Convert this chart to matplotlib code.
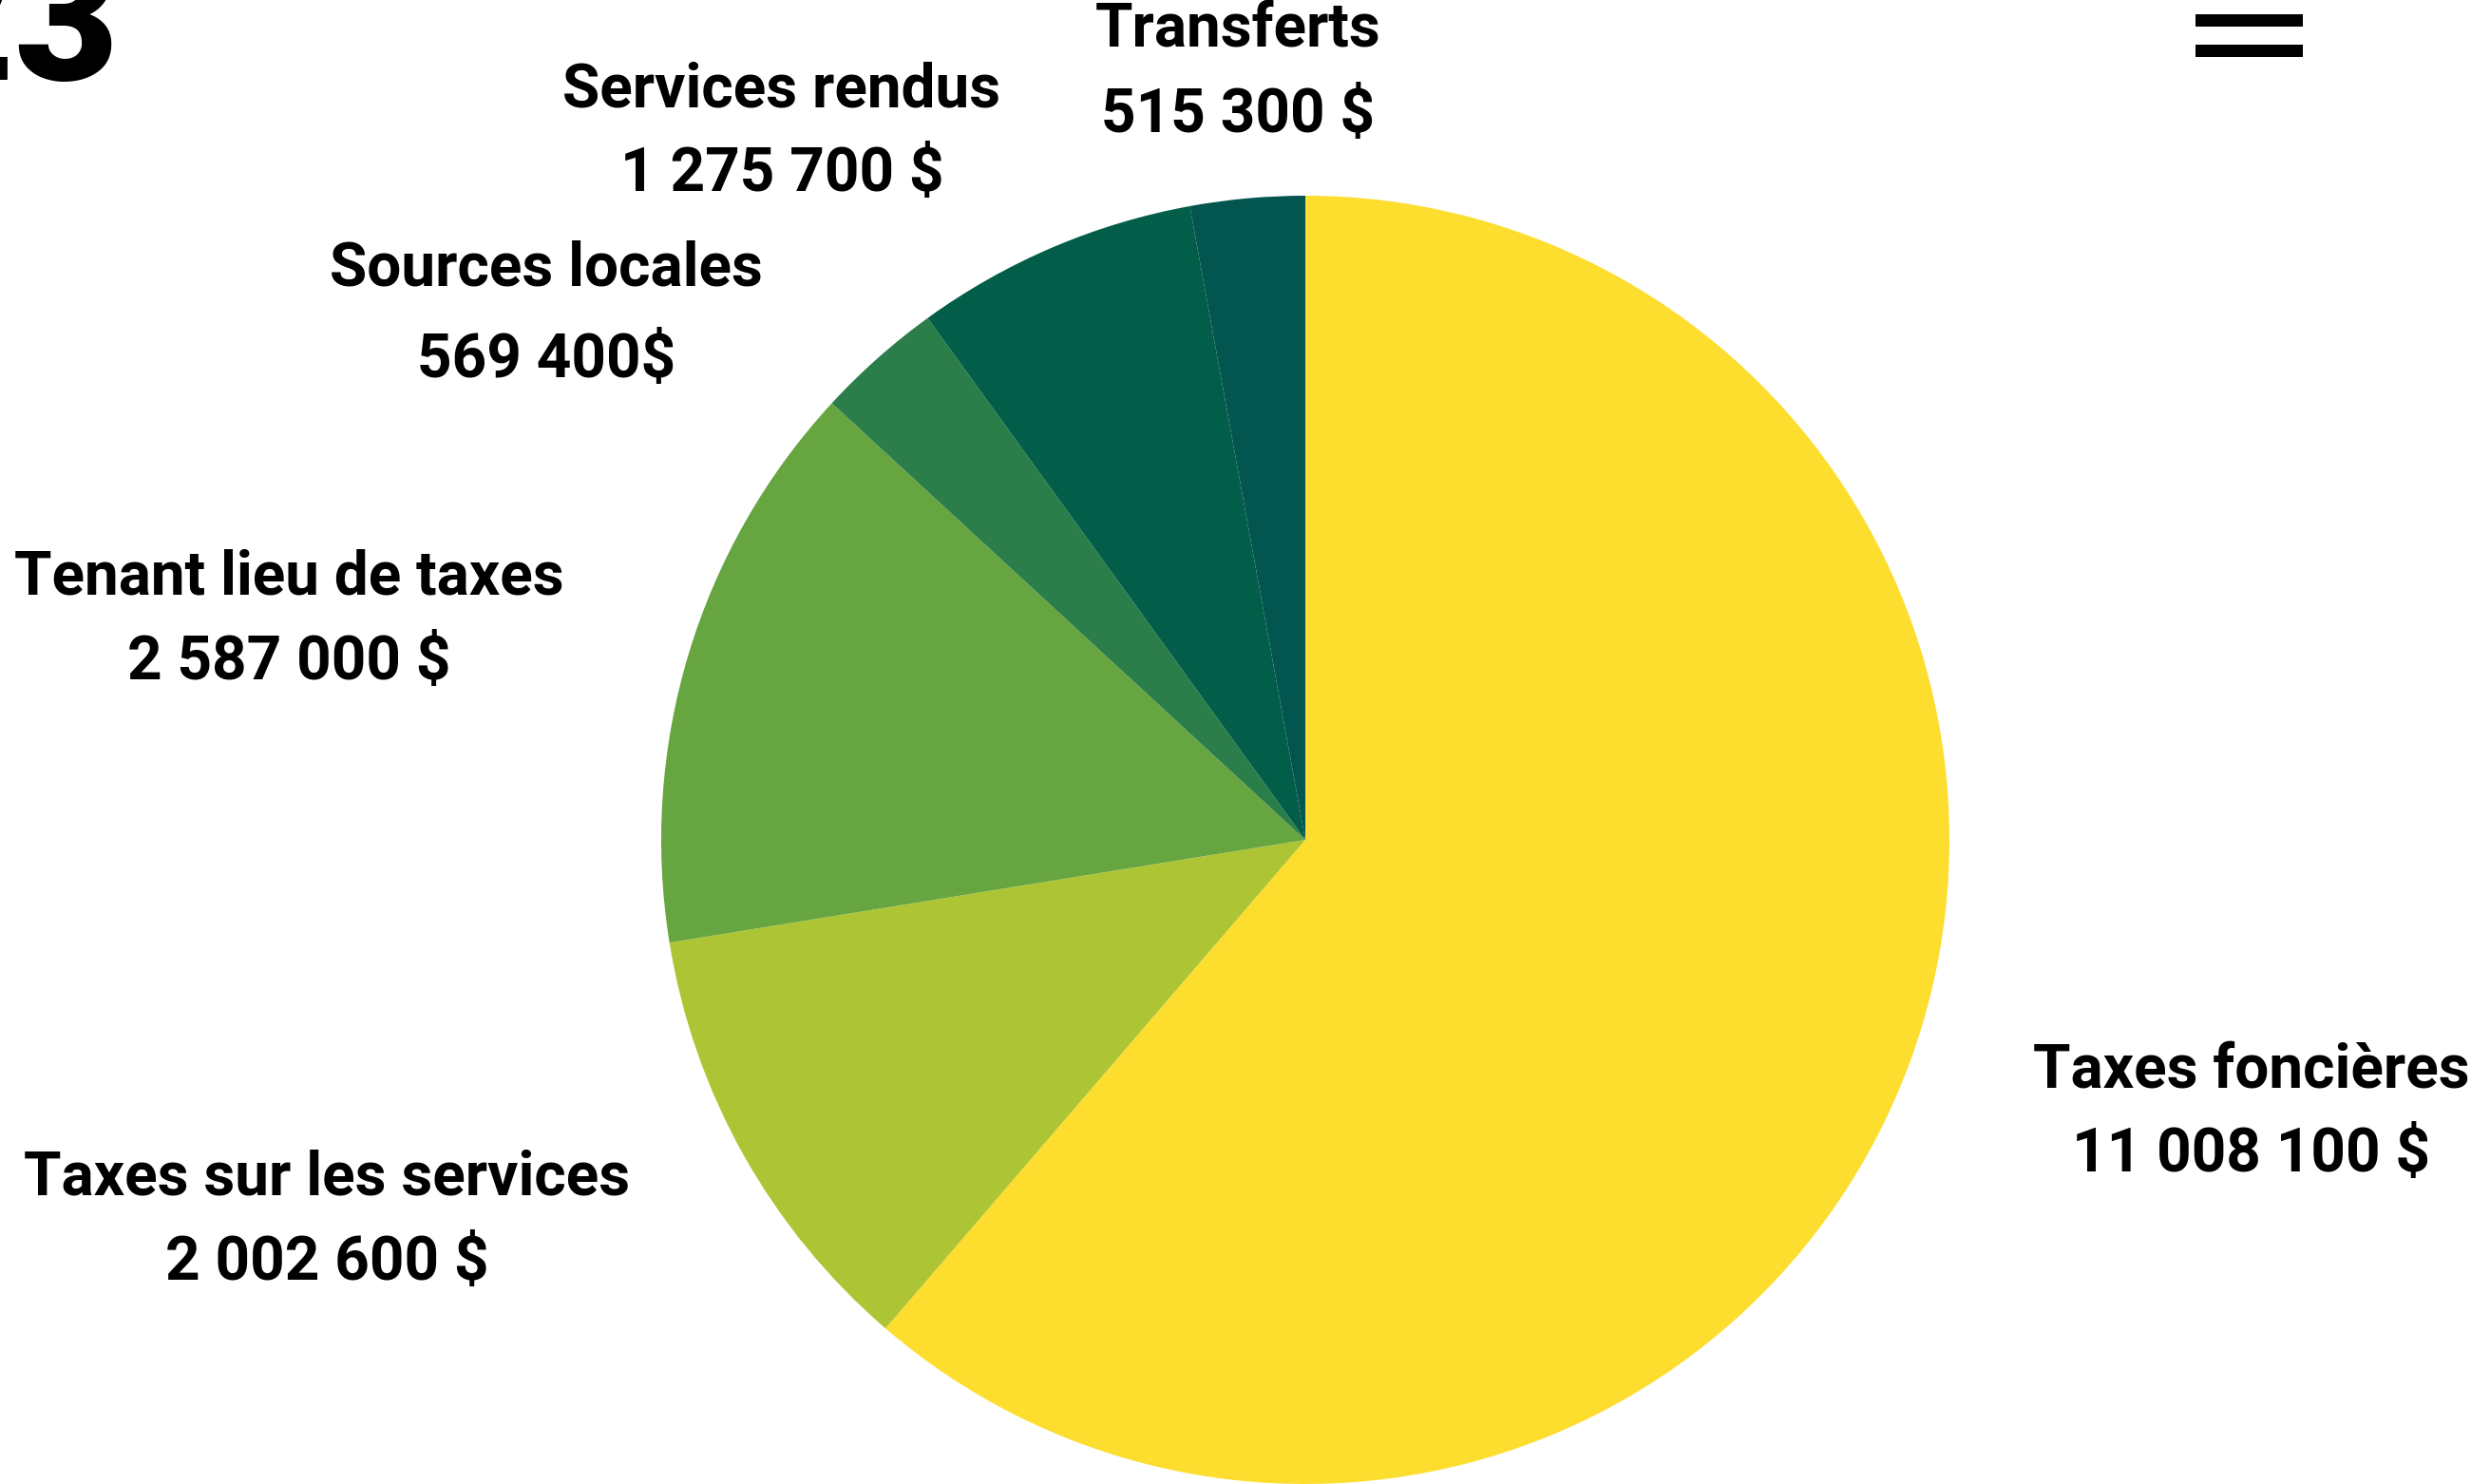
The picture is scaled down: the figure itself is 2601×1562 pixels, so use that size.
import matplotlib
matplotlib.use("Agg")
import matplotlib.pyplot as plt
from matplotlib.patches import Rectangle

categories = ["Taxes foncières", "Taxes sur les services", "Tenant lieu de taxes",
              "Sources locales", "Services rendus", "Transferts"]
values = [11008100, 2002600, 2587000, 569400, 1275700, 515300]
value_labels = ["11 008 100 $", "2 002 600 $", "2 587 000 $", "569 400$", "1 275 700 $", "515 300 $"]
colors = ["#FDDD2E", "#ADC534", "#66A540", "#2B7E4A", "#025E48", "#03554F"]

W, H = 2601, 1562
fig = plt.figure(figsize=(W / 100, H / 100), dpi=100)
fig.patch.set_facecolor("white")

cx, cy, r = 1374, 884, 678
ax = fig.add_axes([(cx - r) / W, (H - cy - r) / H, 2 * r / W, 2 * r / H])
ax.pie(values, colors=colors, startangle=90, counterclock=False,
       wedgeprops=dict(linewidth=0))
ax.set_xlim(-1, 1)
ax.set_ylim(-1, 1)
ax.set_aspect("equal")
ax.axis("off")

# label positions: (x centre, first-line y, gap to second line) in pixels
label_pos = {
    "Taxes foncières": (2370, 1127, 89),
    "Taxes sur les services": (344, 1240, 90),
    "Tenant lieu de taxes": (304, 608, 89),
    "Sources locales": (575, 283, 96),
    "Services rendus": (823, 95, 89),
    "Transferts": (1303, 31, 90),
}
fs = 46
for cat, lab in zip(categories, value_labels):
    x, y, gap = label_pos[cat]
    fig.text(x / W, 1 - y / H, cat, ha="center", va="center",
             fontsize=fs, fontweight="bold", family=["Roboto", "DejaVu Sans"], color="black")
    fig.text(x / W, 1 - (y + gap) / H, lab, ha="center", va="center",
             fontsize=fs, fontweight="bold", family=["Roboto", "DejaVu Sans"], color="black")

# partially visible year fragment at top-left
fig.text(125 / W, 1 - 84 / H, "2023", ha="right", va="baseline",
         fontsize=136, fontweight="black", family=["Roboto", "DejaVu Sans"], color="black")

# hamburger menu icon
for y0 in (15, 47):
    fig.patches.append(Rectangle((2311 / W, 1 - (y0 + 13) / H), 113 / W, 13 / H,
                                 transform=fig.transFigure, facecolor="black",
                                 edgecolor="none"))

fig.savefig("out.png", dpi=100, facecolor="white")
